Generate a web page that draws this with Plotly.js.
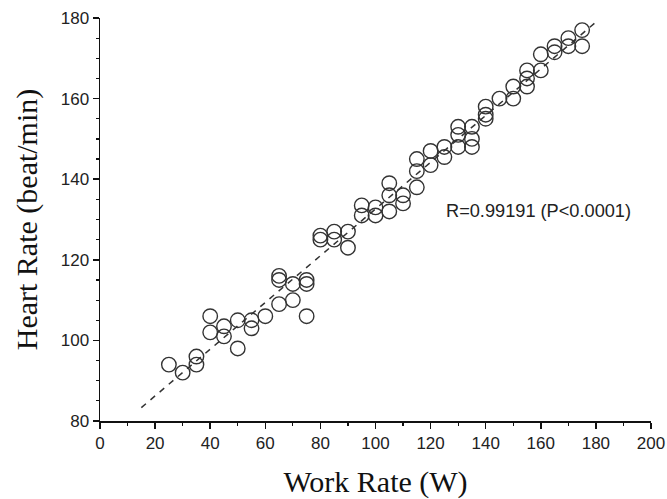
<!DOCTYPE html>
<html>
<head>
<meta charset="utf-8">
<script src="https://cdn.plot.ly/plotly-3.0.1.min.js"></script>
<style>html,body{margin:0;padding:0;background:#fff;}#chart{width:667px;height:499px;}</style>
</head>
<body>
<div id="chart"></div>
<script>
// Work rate (W)
var workRate = [25, 30, 35, 35, 40, 40, 45, 45, 50, 50, 55, 55, 60,
  65, 65, 65, 70, 70, 75, 75, 75, 80, 80, 85, 85, 90, 90, 95, 95,
  100, 100, 105, 105, 105, 110, 110, 115, 115, 115, 120, 120, 125, 125,
  130, 130, 130, 135, 135, 135, 140, 140, 140, 145, 150, 150,
  155, 155, 155, 160, 160, 165, 165, 170, 170, 175, 175];
// Heart rate (beat/min)
var heartRate = [94, 92, 96, 94, 106, 102, 103.5, 101, 105, 98, 105, 103, 106,
  116, 115, 109, 114, 110, 115, 114, 106, 126, 125, 127, 125, 127, 123, 133.5, 131,
  133, 131, 139, 136, 132, 136, 134, 145, 142, 138, 147, 143.5, 148, 145.5,
  153, 151, 148, 153, 150, 148, 158, 156, 155, 160, 163, 160,
  167, 165, 163, 171, 167, 173, 171.5, 175, 173, 177, 173];
var fitRange = [15, 180];
var annotationText = "R=0.99191 (P<0.0001)";

// least squares fit
var n = workRate.length, sx = 0, sy = 0, sxx = 0, sxy = 0;
for (var i = 0; i < n; i++) {
  sx += workRate[i]; sy += heartRate[i];
  sxx += workRate[i] * workRate[i]; sxy += workRate[i] * heartRate[i];
}
var slope = (n * sxy - sx * sy) / (n * sxx - sx * sx);
var intercept = (sy - slope * sx) / n;
var fitY = fitRange.map(function (x) { return intercept + slope * x; });

var tickFont = {family: "Liberation Sans, Arial, sans-serif", size: 17, color: "#222"};
var titleFont = {family: "Liberation Serif, Times New Roman, serif", size: 30, color: "#111"};

var traces = [
  {
    x: fitRange, y: fitY, mode: "lines", type: "scatter",
    line: {color: "#333", width: 1.5, dash: "6px,6px"},
    hoverinfo: "skip", showlegend: false
  },
  {
    x: workRate, y: heartRate, mode: "markers", type: "scatter",
    marker: {symbol: "circle-open", size: 14.5, color: "#333", line: {width: 1.4, color: "#333"}},
    showlegend: false
  }
];

var layout = {
  width: 667, height: 499,
  margin: {l: 100, r: 16, t: 18, b: 78},
  paper_bgcolor: "#fff", plot_bgcolor: "#fff",
  showlegend: false,
  xaxis: {
    range: [0, 200], dtick: 20, tick0: 0,
    showgrid: false, zeroline: false,
    showline: true, linecolor: "#111", linewidth: 1.5,
    ticks: "outside", ticklen: 6, tickwidth: 1.5, tickcolor: "#111",
    minor: {dtick: 10, ticks: "outside", ticklen: 3, tickwidth: 1.2, tickcolor: "#111"},
    tickfont: tickFont,
    title: {text: "Work Rate (W)", font: titleFont, standoff: 19}
  },
  yaxis: {
    range: [80, 180], dtick: 20, tick0: 80,
    showgrid: false, zeroline: false,
    showline: true, linecolor: "#111", linewidth: 1.5,
    ticks: "outside", ticklen: 6, tickwidth: 1.5, tickcolor: "#111",
    minor: {dtick: 5, ticks: "outside", ticklen: 3, tickwidth: 1.2, tickcolor: "#111"},
    tickfont: tickFont,
    title: {text: "Heart Rate (beat/min)", font: titleFont, standoff: 14}
  },
  annotations: [{
    x: 125, y: 132, xref: "x", yref: "y", text: annotationText, showarrow: false,
    xanchor: "left", yanchor: "middle",
    font: {family: "Liberation Sans, Arial, sans-serif", size: 18.2, color: "#222"}
  }]
};

Plotly.newPlot("chart", traces, layout, {displayModeBar: false, staticPlot: true});
</script>
</body>
</html>
